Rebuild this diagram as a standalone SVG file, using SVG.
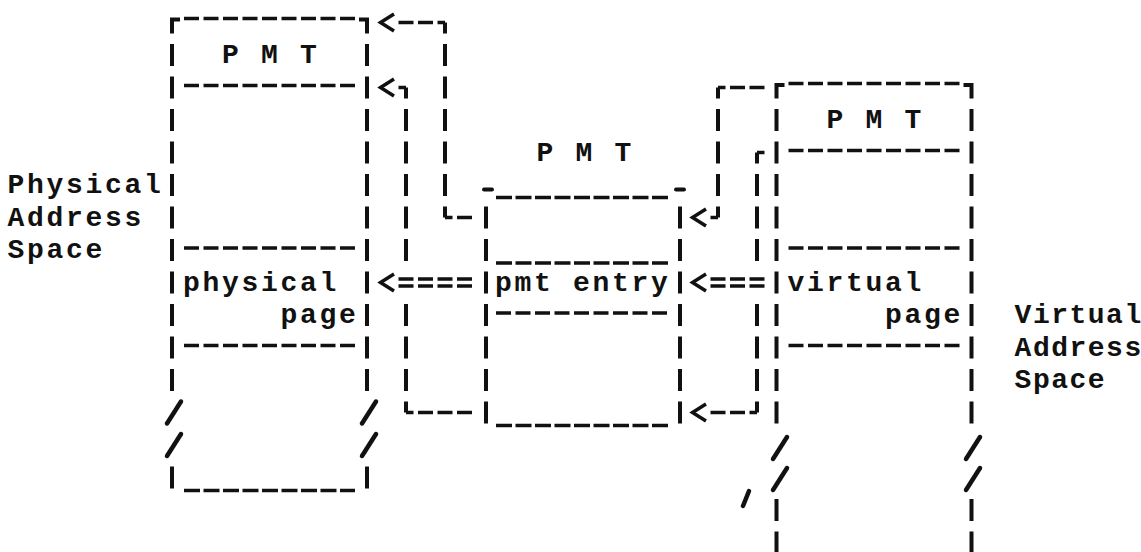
<svg xmlns="http://www.w3.org/2000/svg" xmlns:xlink="http://www.w3.org/1999/xlink" width="1141" height="552" viewBox="0 0 1141 552">
<style>
.v{fill:none;stroke:#111;stroke-width:4;stroke-dasharray:22 10.5}
.vc{fill:none;stroke:#111;stroke-width:4;stroke-dasharray:22 10.5;stroke-dashoffset:11}
.h{fill:none;stroke:#111;stroke-width:3.5;stroke-dasharray:15 4.5}
.hc{fill:none;stroke:#111;stroke-width:3.5;stroke-dasharray:15 4.5;stroke-dashoffset:7.5}
.u{fill:none;stroke:#111;stroke-width:3.5;stroke-dasharray:16 3.5}
.c{fill:none;stroke:#111;stroke-width:4}
.d{fill:none;stroke:#111;stroke-width:4;stroke-linecap:round}
.arrow{fill:none;stroke:#111;stroke-width:3.5}
.sl{fill:none;stroke:#111;stroke-width:4.5;stroke-linecap:round}
.t{font-family:"Liberation Mono","DejaVu Sans Mono",monospace;font-size:28px;font-weight:bold;letter-spacing:2.7px;fill:#111}
.tr{font-family:"Liberation Mono","DejaVu Sans Mono",monospace;font-size:28px;font-weight:bold;letter-spacing:1.5px;fill:#111}
</style>
<defs>
<path id="chev" class="arrow" d="M7.5,-8.5 L-6,0 L7.5,8.5"/>
<path id="slash" class="sl" d="M-6,11 L8,-11"/>
</defs>
<rect width="1141" height="552" fill="#fff"/>

<g id="physical-space">
<path class="c" d="M180,19.5 H172 V33.5"/>
<path class="c" d="M359,19.5 H367 V33.5"/>
<path class="h" d="M184,18.5 H355"/>
<path class="v" d="M172,44 V391"/>
<path class="v" d="M367,44 V391"/>
<path class="v" d="M172,466.5 V488.5"/>
<path class="v" d="M367,466.5 V488.5"/>
<path class="h" d="M184,85.5 H355"/>
<path class="h" d="M184,248 H355"/>
<path class="h" d="M184,345.5 H355"/>
<path class="u" d="M184,490.5 H355"/>
<use xlink:href="#slash" href="#slash" x="173" y="412.5"/>
<use xlink:href="#slash" href="#slash" x="173" y="445"/>
<use xlink:href="#slash" href="#slash" x="368" y="412.5"/>
<use xlink:href="#slash" href="#slash" x="368" y="445"/>
<text class="t" x="222.1" y="63">P M T</text>
<text class="t" x="183.1" y="290.5">physical</text>
<text class="t" x="280.6" y="323">page</text>
<text class="t" x="7.6" y="193">Physical</text>
<text class="t" x="7.6" y="225.5">Address</text>
<text class="t" x="7.6" y="258">Space</text>
</g>

<g id="pmt">
<path class="d" d="M484,189.5 H492"/>
<path class="d" d="M676,189.5 H684"/>
<path class="u" d="M496,197.5 H668"/>
<path class="v" d="M486,206.5 V423.5"/>
<path class="v" d="M680,206.5 V423.5"/>
<path class="u" d="M496,263 H668"/>
<path class="h" d="M496,313 H667"/>
<path class="u" d="M496,425.5 H668"/>
<text class="t" x="536.6" y="160.5">P M T</text>
<text class="t" x="495.1" y="290.5">pmt entry</text>
</g>

<g id="virtual-space">
<path class="c" d="M784.5,85 H776.5 V98.5"/>
<path class="c" d="M963.5,85 H971.5 V98.5"/>
<path class="h" d="M788.5,83.5 H959.5"/>
<path class="v" d="M776.5,109 V423.5"/>
<path class="v" d="M971.5,109 V423.5"/>
<path class="v" d="M776.5,499 V553.5"/>
<path class="v" d="M971.5,499 V553.5"/>
<path class="h" d="M788.5,150.5 H959.5"/>
<path class="h" d="M788.5,248 H959.5"/>
<path class="h" d="M788.5,345.5 H959.5"/>
<use xlink:href="#slash" href="#slash" x="779" y="448"/>
<use xlink:href="#slash" href="#slash" x="779" y="479"/>
<use xlink:href="#slash" href="#slash" x="972" y="448"/>
<use xlink:href="#slash" href="#slash" x="972" y="479"/>
<path class="sl" stroke-width="3.5" d="M743,506 L749,491"/>
<text class="t" x="826.6" y="128">P M T</text>
<text class="t" x="787.6" y="290.5">virtual</text>
<text class="t" x="885.1" y="323">page</text>
<text class="tr" x="1014.6" y="323">Virtual</text>
<text class="tr" x="1014.6" y="355.5">Address</text>
<text class="tr" x="1014.6" y="388">Space</text>
</g>

<g id="connectors">
<g id="c1">
<path class="hc" d="M445,22.5 H398.5"/>
<path class="vc" d="M445,22.5 V217.5"/>
<path class="hc" d="M445,217.5 H472"/>
<use xlink:href="#chev" href="#chev" x="386.5" y="22.5"/>
</g>
<g id="c2">
<path class="hc" d="M406,87.5 H398.5"/>
<path class="vc" d="M406,87.5 V261"/>
<path class="v" d="M406,304 V412.5"/>
<path class="hc" d="M406,412.5 H472"/>
<use xlink:href="#chev" href="#chev" x="386.5" y="87.5"/>
</g>
<g id="c3">
<path class="h" d="M398.5,279 H472"/>
<path class="h" d="M398.5,286 H472"/>
<use xlink:href="#chev" href="#chev" x="386.5" y="282.5"/>
</g>
<g id="c4">
<path class="h" d="M710.5,279 H764.5"/>
<path class="h" d="M710.5,286 H764.5"/>
<use xlink:href="#chev" href="#chev" x="698.5" y="282.5"/>
</g>
<g id="c5">
<path class="hc" d="M718,87.5 H764.5"/>
<path class="vc" d="M718,87.5 V217.5"/>
<path class="hc" d="M718,217.5 H710.5"/>
<use xlink:href="#chev" href="#chev" x="698.5" y="217.5"/>
</g>
<g id="c6">
<path class="hc" d="M757,152.5 H764.5"/>
<path class="vc" d="M757,152.5 V261"/>
<path class="v" d="M757,304 V412.5"/>
<path class="hc" d="M757,412.5 H710.5"/>
<use xlink:href="#chev" href="#chev" x="698.5" y="412.5"/>
</g>
</g>
</svg>
